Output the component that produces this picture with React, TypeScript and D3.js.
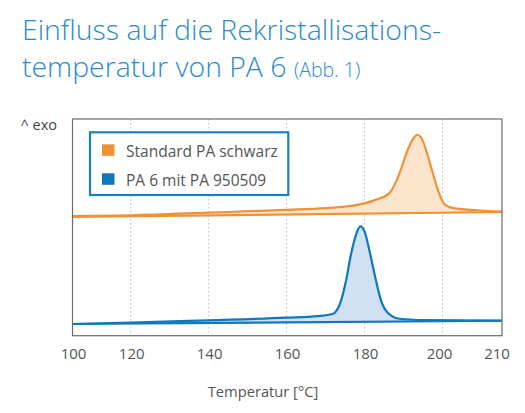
import React from 'react'
import * as d3 from 'd3'

// temperatures (°C) and signal (arbitrary units, exo up)
const orangeTemp = [100, 120, 140, 160, 170, 175, 180, 183, 186.4, 189, 191.1, 192.6, 193.5, 194.6, 196, 197.5, 199.1, 200.4, 201.8, 206.3, 210]
const orangeSignal = [5.51, 5.55, 5.67, 5.8, 5.88, 5.95, 6.1, 6.27, 6.57, 7.5, 8.57, 9.11, 9.26, 9.11, 8.42, 7.5, 6.57, 6.04, 5.88, 5.77, 5.72]
const orangeBase = [5.47, 5.7]

const blueTemp = [100, 120, 140, 160, 168, 171.8, 173.9, 175.2, 176.5, 177.8, 178.9, 180, 181.3, 182.6, 184.3, 186, 189, 195, 210]
const blueSignal = [0.54, 0.6, 0.71, 0.83, 0.9, 1.0, 1.58, 2.5, 3.73, 4.65, 5.04, 4.81, 3.88, 2.81, 1.58, 1.05, 0.78, 0.72, 0.69]
const blueBase = [0.54, 0.69]

const gridTicks = [120, 140, 160, 180, 200]
const tickLabels = [100, 120, 140, 160, 180, 200, 210]
const seriesNames = ['Standard PA schwarz', 'PA 6 mit PA 950509']

const W = 525
const H = 413
const plot = { left: 72.5, right: 502, top: 119, bottom: 335.7 }
const font = '"Open Sans", "DejaVu Sans", sans-serif'

export default function App() {
  // broken axis: the ends (100, 210) are squeezed onto the frame
  const x = d3.scaleLinear()
    .domain([100, 120, 200, 210])
    .range([plot.left, 130.7, 442.5, plot.right])

  const y = d3.scaleLinear()
    .domain([0, 10])
    .range([plot.bottom, plot.bottom - 217])

  const series = [
    { temp: orangeTemp, signal: orangeSignal, base: orangeBase, stroke: '#ef9237', fill: '#fde4cd' },
    { temp: blueTemp, signal: blueSignal, base: blueBase, stroke: '#0f78bc', fill: '#cfe1f3' },
  ]

  const line = d3.line<[number, number]>()
    .x(d => x(d[0]))
    .y(d => y(d[1]))
    .curve(d3.curveMonotoneX)

  const baseAt = (base: number[], t: number) => base[0] + (base[1] - base[0]) * (t - 100) / 110

  const area = (s: typeof series[0]) => d3.area<[number, number]>()
    .x(d => x(d[0]))
    .y0(d => y(baseAt(s.base, d[0])))
    .y1(d => y(d[1]))
    .curve(d3.curveMonotoneX)

  return (
    <div style={{ position: 'fixed', left: 0, top: 0 }}>
      <svg width={W} height={H} style={{ display: 'block', background: '#fff' }}>
        <g fontFamily={font} fill="#2a8bcb" fontWeight={300}>
          <text x={22} y={40} fontSize={28.4}>Einfluss auf die Rekristallisations-</text>
          <text x={22} y={77} fontSize={28.4}>
            temperatur von PA 6 <tspan fontSize={19.5}>(Abb. 1)</tspan>
          </text>
        </g>

        <text x={20.5} y={130} fontFamily={font} fontSize={14.5} fill="#444">^ exo</text>

        {gridTicks.map(t => (
          <line key={t} x1={x(t)} x2={x(t)} y1={plot.top} y2={plot.bottom}
            stroke="#bdbdbd" strokeWidth={1} strokeDasharray="1.5,2.5" />
        ))}

        {series.map((s, i) => {
          const pts = s.temp.map((t, j) => [t, s.signal[j]] as [number, number])
          const basePts: [number, number][] = [[100, s.base[0]], [210, s.base[1]]]
          return (
            <g key={i}>
              <path d={area(s)(pts) || ''} fill={s.fill} />
              <path d={line(basePts) || ''} fill="none" stroke={s.stroke} strokeWidth={2.2} />
              <path d={line(pts) || ''} fill="none" stroke={s.stroke} strokeWidth={2.2} strokeLinejoin="round" />
            </g>
          )
        })}

        <rect x={plot.left} y={plot.top} width={plot.right - plot.left} height={plot.bottom - plot.top}
          fill="none" stroke="#6b6b6b" strokeWidth={1.2} />

        <g fontFamily={font} fontSize={15} fill="#555" textAnchor="middle">
          {tickLabels.map(t => (
            <text key={t} x={t === 210 ? x(t) - 5 : t === 200 ? x(t) - 3 : x(t) + 1} y={358.5}>{t}</text>
          ))}
          <text x={263} y={396.5} fontSize={14.7}>Temperatur [°C]</text>
        </g>

        <g>
          <rect x={90} y={132.3} width={198.3} height={62.7} fill="#fff" stroke="#1a80c2" strokeWidth={2.2} />
          {seriesNames.map((name, i) => (
            <g key={name} transform={`translate(0, ${i * 29})`}>
              <rect x={102} y={144.3} width={12.5} height={11.5} fill={series[i].stroke} />
              <text x={126} y={156.5} fontFamily={font} fontSize={15.5} fill="#555">{name}</text>
            </g>
          ))}
        </g>
      </svg>
    </div>
  )
}
